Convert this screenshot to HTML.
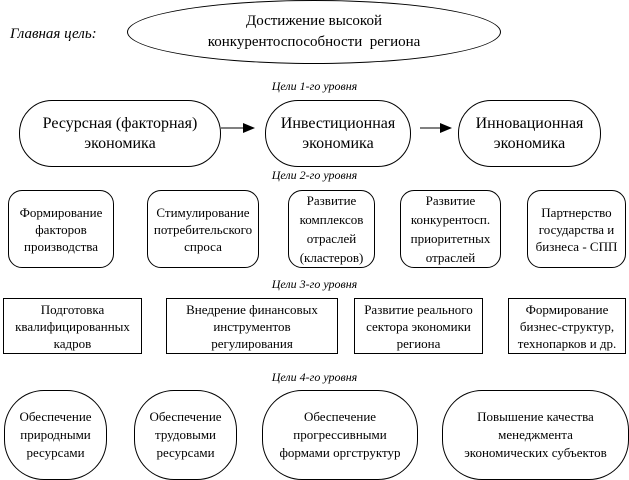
<!DOCTYPE html>
<html><head><meta charset="utf-8"><style>
body{margin:0;width:629px;height:466px;overflow:hidden;background:#fff;position:relative;font-family:"Liberation Serif","Times New Roman","DejaVu Serif",serif;color:#000}
.b{position:absolute;border:1px solid #000;box-sizing:border-box;display:flex;align-items:center;justify-content:center;text-align:center;overflow:hidden;white-space:nowrap}
.l{position:absolute;font-style:italic;font-size:12px;width:629px;text-align:center;left:0}
.t{font-size:13px;line-height:17px}
</style></head><body>
<div class="b" style="left:127px;top:0px;width:374px;height:64px;border-radius:50%;font-size:15px;line-height:21px">Достижение высокой<br>конкурентоспособности&nbsp; региона</div>
<div style="position:absolute;left:10px;top:26px;font-style:italic;font-size:15px">Главная цель:</div>
<div class="l" style="top:79px">Цели 1-го уровня</div>
<div class="b" style="left:19px;top:100px;width:202px;height:67px;border-radius:33px;font-size:16px;line-height:20px">Ресурсная (факторная)<br>экономика</div>
<div class="b" style="left:265px;top:100px;width:146px;height:67px;border-radius:33px;font-size:16px;line-height:20px">Инвестиционная<br>экономика</div>
<div class="b" style="left:458px;top:100px;width:143px;height:67px;border-radius:33px;font-size:16px;line-height:20px">Инновационная<br>экономика</div>
<svg style="position:absolute;left:0;top:0" width="629" height="466">
<line x1="221" y1="128" x2="245" y2="128" stroke="#000"/><polygon points="243,123 255,128 243,133"/>
<line x1="420" y1="128" x2="440" y2="128" stroke="#000"/><polygon points="440,123 452,128 440,133"/>
</svg>
<div class="l" style="top:168px">Цели 2-го уровня</div>
<div class="b t" style="left:8px;top:190px;width:106px;height:78px;border-radius:14px">Формирование<br>факторов<br>производства</div>
<div class="b t" style="left:147px;top:190px;width:112px;height:78px;border-radius:14px">Стимулирование<br>потребительского<br>спроса</div>
<div class="b t" style="left:288px;top:190px;width:87px;height:78px;border-radius:14px;line-height:19px">Развитие<br>комплексов<br>отраслей<br>(кластеров)</div>
<div class="b t" style="left:400px;top:190px;width:101px;height:78px;border-radius:14px;line-height:19px">Развитие<br>конкурентосп.<br>приоритетных<br>отраслей</div>
<div class="b t" style="left:527px;top:190px;width:99px;height:78px;border-radius:14px">Партнерство<br>государства и<br>бизнеса - СПП</div>
<div class="l" style="top:277px">Цели 3-го уровня</div>
<div class="b t" style="left:3px;top:298px;width:139px;height:56px">Подготовка<br>квалифицированных<br>кадров</div>
<div class="b t" style="left:166px;top:298px;width:172px;height:56px">Внедрение финансовых<br>инструментов<br>регулирования</div>
<div class="b t" style="left:354px;top:298px;width:129px;height:56px">Развитие реального<br>сектора экономики<br>региона</div>
<div class="b t" style="left:508px;top:298px;width:118px;height:56px">Формирование<br>бизнес-структур,<br>технопарков и др.</div>
<div class="l" style="top:370px">Цели 4-го уровня</div>
<div class="b t" style="left:4px;top:390px;width:103px;height:90px;border-radius:40px;line-height:18px">Обеспечение<br>природными<br>ресурсами</div>
<div class="b t" style="left:134px;top:390px;width:103px;height:90px;border-radius:40px;line-height:18px">Обеспечение<br>трудовыми<br>ресурсами</div>
<div class="b t" style="left:262px;top:390px;width:156px;height:90px;border-radius:40px;line-height:18px">Обеспечение<br>прогрессивными<br>формами оргструктур</div>
<div class="b t" style="left:442px;top:390px;width:187px;height:90px;border-radius:40px;line-height:18px">Повышение качества<br>менеджмента<br>экономических субъектов</div>
</body></html>
